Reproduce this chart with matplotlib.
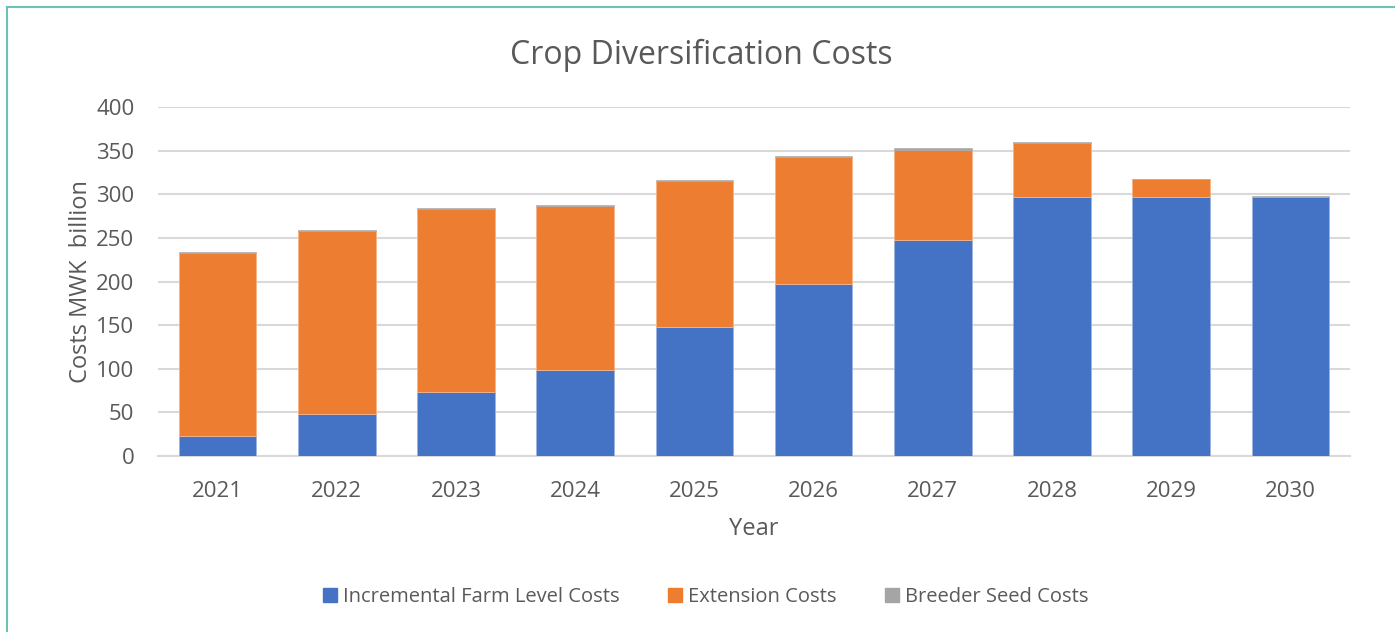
import matplotlib
matplotlib.use("Agg")
import matplotlib.pyplot as plt
from matplotlib.lines import Line2D
import numpy as np

years = ["2021", "2022", "2023", "2024", "2025", "2026", "2027", "2028", "2029", "2030"]
farm_costs = [23, 48, 73, 98, 148, 197, 247, 297, 297, 297]
extension_costs = [210, 210, 210, 189, 167, 146, 104, 62, 20, 0]
breeder_costs = [1, 1, 1, 1, 1, 1, 2, 1, 1, 1]
series_names = ["Incremental Farm Level Costs", "Extension Costs", "Breeder Seed Costs"]
y_ticks = [0, 50, 100, 150, 200, 250, 300, 350, 400]

colors = ["#4472C4", "#ED7D31", "#A5A5A5"]
text_color = "#595959"
plt.rcParams['font.family'] = ['Open Sans', 'DejaVu Sans']

W, H = 1395, 632
fig = plt.figure(figsize=(W / 100, H / 100), dpi=100)
ax = fig.add_axes([158 / W, 1 - 456 / H, (1350 - 158) / W, (456 - 107) / H])

x = np.arange(len(years))
farm = np.array(farm_costs)
ext = np.array(extension_costs)
brd = np.array(breeder_costs)
bw = 0.65
ax.bar(x, farm, bw, color=colors[0], edgecolor="#9DB4E0", linewidth=0.6, label=series_names[0], zorder=3)
ax.bar(x, ext, bw, bottom=farm, color=colors[1], edgecolor="#F5B48A", linewidth=0.6, label=series_names[1], zorder=3)
ax.bar(x, brd, bw, bottom=farm + ext, color=colors[2], edgecolor="#A5A5A5", linewidth=0.4, label=series_names[2], zorder=3)

ax.set_xlim(-0.5, len(years) - 0.5)
ax.set_ylim(0, 400)
ax.set_yticks(y_ticks)
ax.set_xticks(x)
ax.set_xticklabels(years)
ax.yaxis.grid(True, color="#D9D9D9", linewidth=1.5, zorder=0)
ax.set_axisbelow(True)
for s in ["top", "right", "left"]:
    ax.spines[s].set_visible(False)
ax.spines["bottom"].set_color("#D9D9D9")
ax.spines["bottom"].set_linewidth(1.5)
ax.tick_params(axis="both", length=0, labelsize=16, labelcolor=text_color)
ax.tick_params(axis="x", pad=18)
ax.tick_params(axis="y", pad=17)

ax.set_xlabel("Year", fontsize=17, color=text_color, labelpad=11)
ax.set_ylabel("Costs MWK  billion", fontsize=17, color=text_color, labelpad=2)

fig.text(701 / W, 1 - 55 / H, "Crop Diversification Costs", ha="center", va="center",
         fontsize=23, color=text_color)

handles = [plt.Rectangle((0, 0), 1, 1, color=c) for c in colors]
fig.legend(handles, series_names, loc="center", bbox_to_anchor=(706 / W, 1 - 597 / H), ncol=3,
           frameon=False, fontsize=14.5, labelcolor=text_color, handlelength=0.7, handleheight=0.7,
           handletextpad=0.3, columnspacing=2.4)

border = "#6CC3B3"
fig.add_artist(Line2D([7 / W, 7 / W], [0, 1 - 7 / H], color=border, linewidth=1.5, transform=fig.transFigure))
fig.add_artist(Line2D([7 / W, 1], [1 - 7 / H, 1 - 7 / H], color=border, linewidth=1.5, transform=fig.transFigure))

fig.savefig("out.png", dpi=100)
